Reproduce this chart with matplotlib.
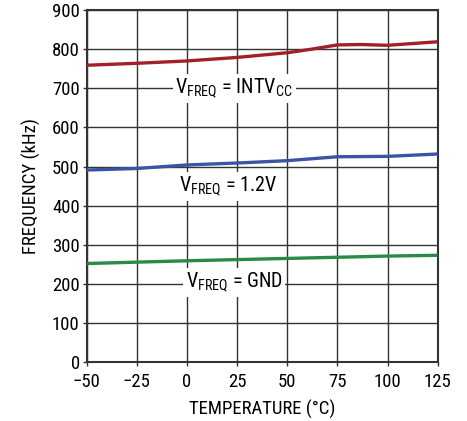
import matplotlib
matplotlib.use("Agg")
import matplotlib.pyplot as plt
from matplotlib import font_manager

names = {f.name for f in font_manager.fontManager.ttflist}
fam = [n for n in ['Liberation Sans Narrow', 'Roboto Condensed', 'Open Sans Condensed', 'DejaVu Sans Condensed'] if n in names]
plt.rcParams['font.family'] = fam + ['DejaVu Sans']

temps_red = [-50, -25, 0, 25, 50, 62, 75, 87, 100, 125]
freq_red = [759, 764, 770, 779, 791, 800, 811, 812, 810, 819]
temps_blue = [-50, -25, 0, 25, 50, 75, 100, 125]
freq_blue = [491, 495, 504, 509, 515, 525, 526, 532]
temps_green = [-50, 0, 50, 75, 100, 125]
freq_green = [252, 259, 265, 268, 271, 273]

xticks = [-50, -25, 0, 25, 50, 75, 100, 125]
xticklabels = ['\u221250', '\u221225', '0', '25', '50', '75', '100', '125']
yticks = [0, 100, 200, 300, 400, 500, 600, 700, 800, 900]

fig = plt.figure(figsize=(4.67, 4.21), dpi=100)
ax = fig.add_axes([0.1857, 0.140, 0.7515, 0.836])

ax.plot(temps_red, freq_red, color='#A3202A', lw=2.4, solid_capstyle='butt', zorder=3)
ax.plot(temps_blue, freq_blue, color='#3A55A5', lw=2.4, solid_capstyle='butt', zorder=3)
ax.plot(temps_green, freq_green, color='#2A8A48', lw=2.4, solid_capstyle='butt', zorder=3)

ax.set_xlim(-50, 125)
ax.set_ylim(0, 900)
ax.set_xticks(xticks)
ax.set_xticklabels(xticklabels)
ax.set_yticks(yticks)
ax.grid(True, color='#333333', lw=1.0)
ax.set_axisbelow(True)
for s in ax.spines.values():
    s.set_color('#333333')
    s.set_linewidth(1.5)
ax.tick_params(direction='out', length=3, width=1.0, color='#333333', labelsize=13.5)
ax.tick_params(axis='x', pad=5)
ax.tick_params(axis='y', pad=2)

ax.set_xlabel('TEMPERATURE (\u00b0C)', fontsize=13.5, labelpad=6)
ax.set_ylabel('FREQUENCY (kHz)', fontsize=13.5, labelpad=8)

bbox = dict(facecolor='white', edgecolor='none', pad=2)
lab_kw = dict(ha='center', va='center', fontsize=14.5, bbox=bbox, zorder=4)
ax.text(23.5, 700, r'V$_{\mathregular{FREQ}}$ = INTV$_{\mathregular{CC}}$', **lab_kw)
ax.text(20.5, 450, r'V$_{\mathregular{FREQ}}$ = 1.2V', **lab_kw)
ax.text(23.5, 203, r'V$_{\mathregular{FREQ}}$ = GND', **lab_kw)

fig.savefig('out.png', dpi=100)
